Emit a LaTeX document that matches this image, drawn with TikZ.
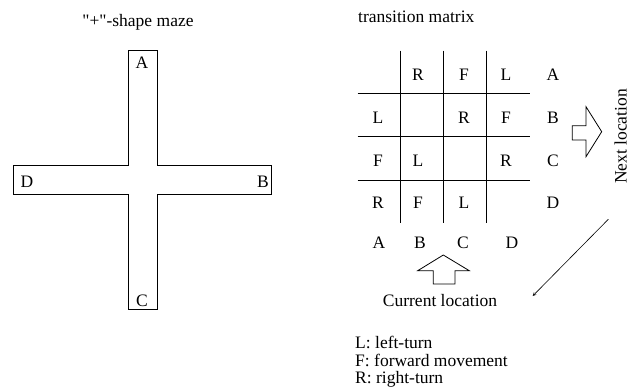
\documentclass[tikz,border=0pt]{standalone}
\usepackage{fontspec}
\setmainfont{Liberation Serif}
\newfontfamily\plainquote{Liberation Serif}
\begin{document}
\begin{tikzpicture}[x=1pt,y=-1pt,
  lbl/.style={inner sep=0pt,font=\fontsize{17.5}{20}\selectfont},
  ln/.style={line width=0.9pt,black},
  blockarrow/.style={line width=0.8pt,black,fill=white,line join=miter}]
\useasboundingbox (0,0) rectangle (629,389);
% ---- maze ----
\node[lbl,anchor=base] (mazetitle) at (138,26) {{\plainquote "+"}-shape maze};
\draw[ln] (128.3,50.7) -- (157.3,50.7) -- (157.3,165.3) -- (271.7,165.3) -- (271.7,194.3)
  -- (157.3,194.3) -- (157.3,309.3) -- (128.3,309.3) -- (128.3,194.3) -- (13.7,194.3)
  -- (13.7,165.3) -- (128.3,165.3) -- cycle;
\node[lbl] (mA) at (142,63) {A};
\node[lbl] (mB) at (263,182) {B};
\node[lbl] (mC) at (142,301) {C};
\node[lbl] (mD) at (27,182) {D};
% ---- transition matrix ----
\node[lbl,anchor=base west] (tmtitle) at (358,22) {transition matrix};
\foreach \x in {400.3,443.3,486.7} \draw[ln] (\x,50.7) -- (\x,222.7);
\foreach \y in {93.7,136.7,180} \draw[ln] (357.7,\y) -- (530,\y);
% row A
\node[lbl] (c12) at (418,75) {R};
\node[lbl] (c13) at (464,75) {F};
\node[lbl] (c14) at (506,75) {L};
% row B
\node[lbl] (c21) at (378,118) {L};
\node[lbl] (c23) at (464,118) {R};
\node[lbl] (c24) at (506,118) {F};
% row C
\node[lbl] (c31) at (378,161) {F};
\node[lbl] (c32) at (418,161) {L};
\node[lbl] (c34) at (506,161) {R};
% row D
\node[lbl] (c41) at (378,203) {R};
\node[lbl] (c42) at (418,203) {F};
\node[lbl] (c43) at (464,203) {L};
% next-location labels
\node[lbl] (rA) at (553,75) {A};
\node[lbl] (rB) at (553,118) {B};
\node[lbl] (rC) at (553,161) {C};
\node[lbl] (rD) at (553,203) {D};
% current-location labels
\node[lbl] (bA) at (379,243) {A};
\node[lbl] (bB) at (420,243) {B};
\node[lbl] (bC) at (463,243) {C};
\node[lbl] (bD) at (512,243) {D};
% up block arrow
\draw[blockarrow] (443.3,255) -- (469.3,270.7) -- (455,270.7) -- (455,284) -- (433.3,284)
  -- (433.3,270.7) -- (417.7,270.7) -- cycle;
\node[lbl,anchor=base] (cur) at (440,306) {Current location};
% right block arrow
\draw[blockarrow] (601.7,131.7) -- (586,156.7) -- (586,140) -- (572.3,140) -- (572.3,125.7)
  -- (586,125.7) -- (586,106.7) -- cycle;
\node[lbl,rotate=90,anchor=north] (next) at (614.3,136.5) {Next location};
% diagonal arrow
\coordinate (dstart) at (608.3,219.3);
\coordinate (dend) at (532.7,296);
\draw[-stealth,line width=0.6pt] (dstart) -- (dend);
% legend
\node[lbl,anchor=base west] (legL) at (355,348.3) {L: left-turn};
\node[lbl,anchor=base west] (legF) at (355,366.7) {F: forward movement};
\node[lbl,anchor=base west] (legR) at (355,383.3) {R: right-turn};
\end{tikzpicture}
\end{document}
